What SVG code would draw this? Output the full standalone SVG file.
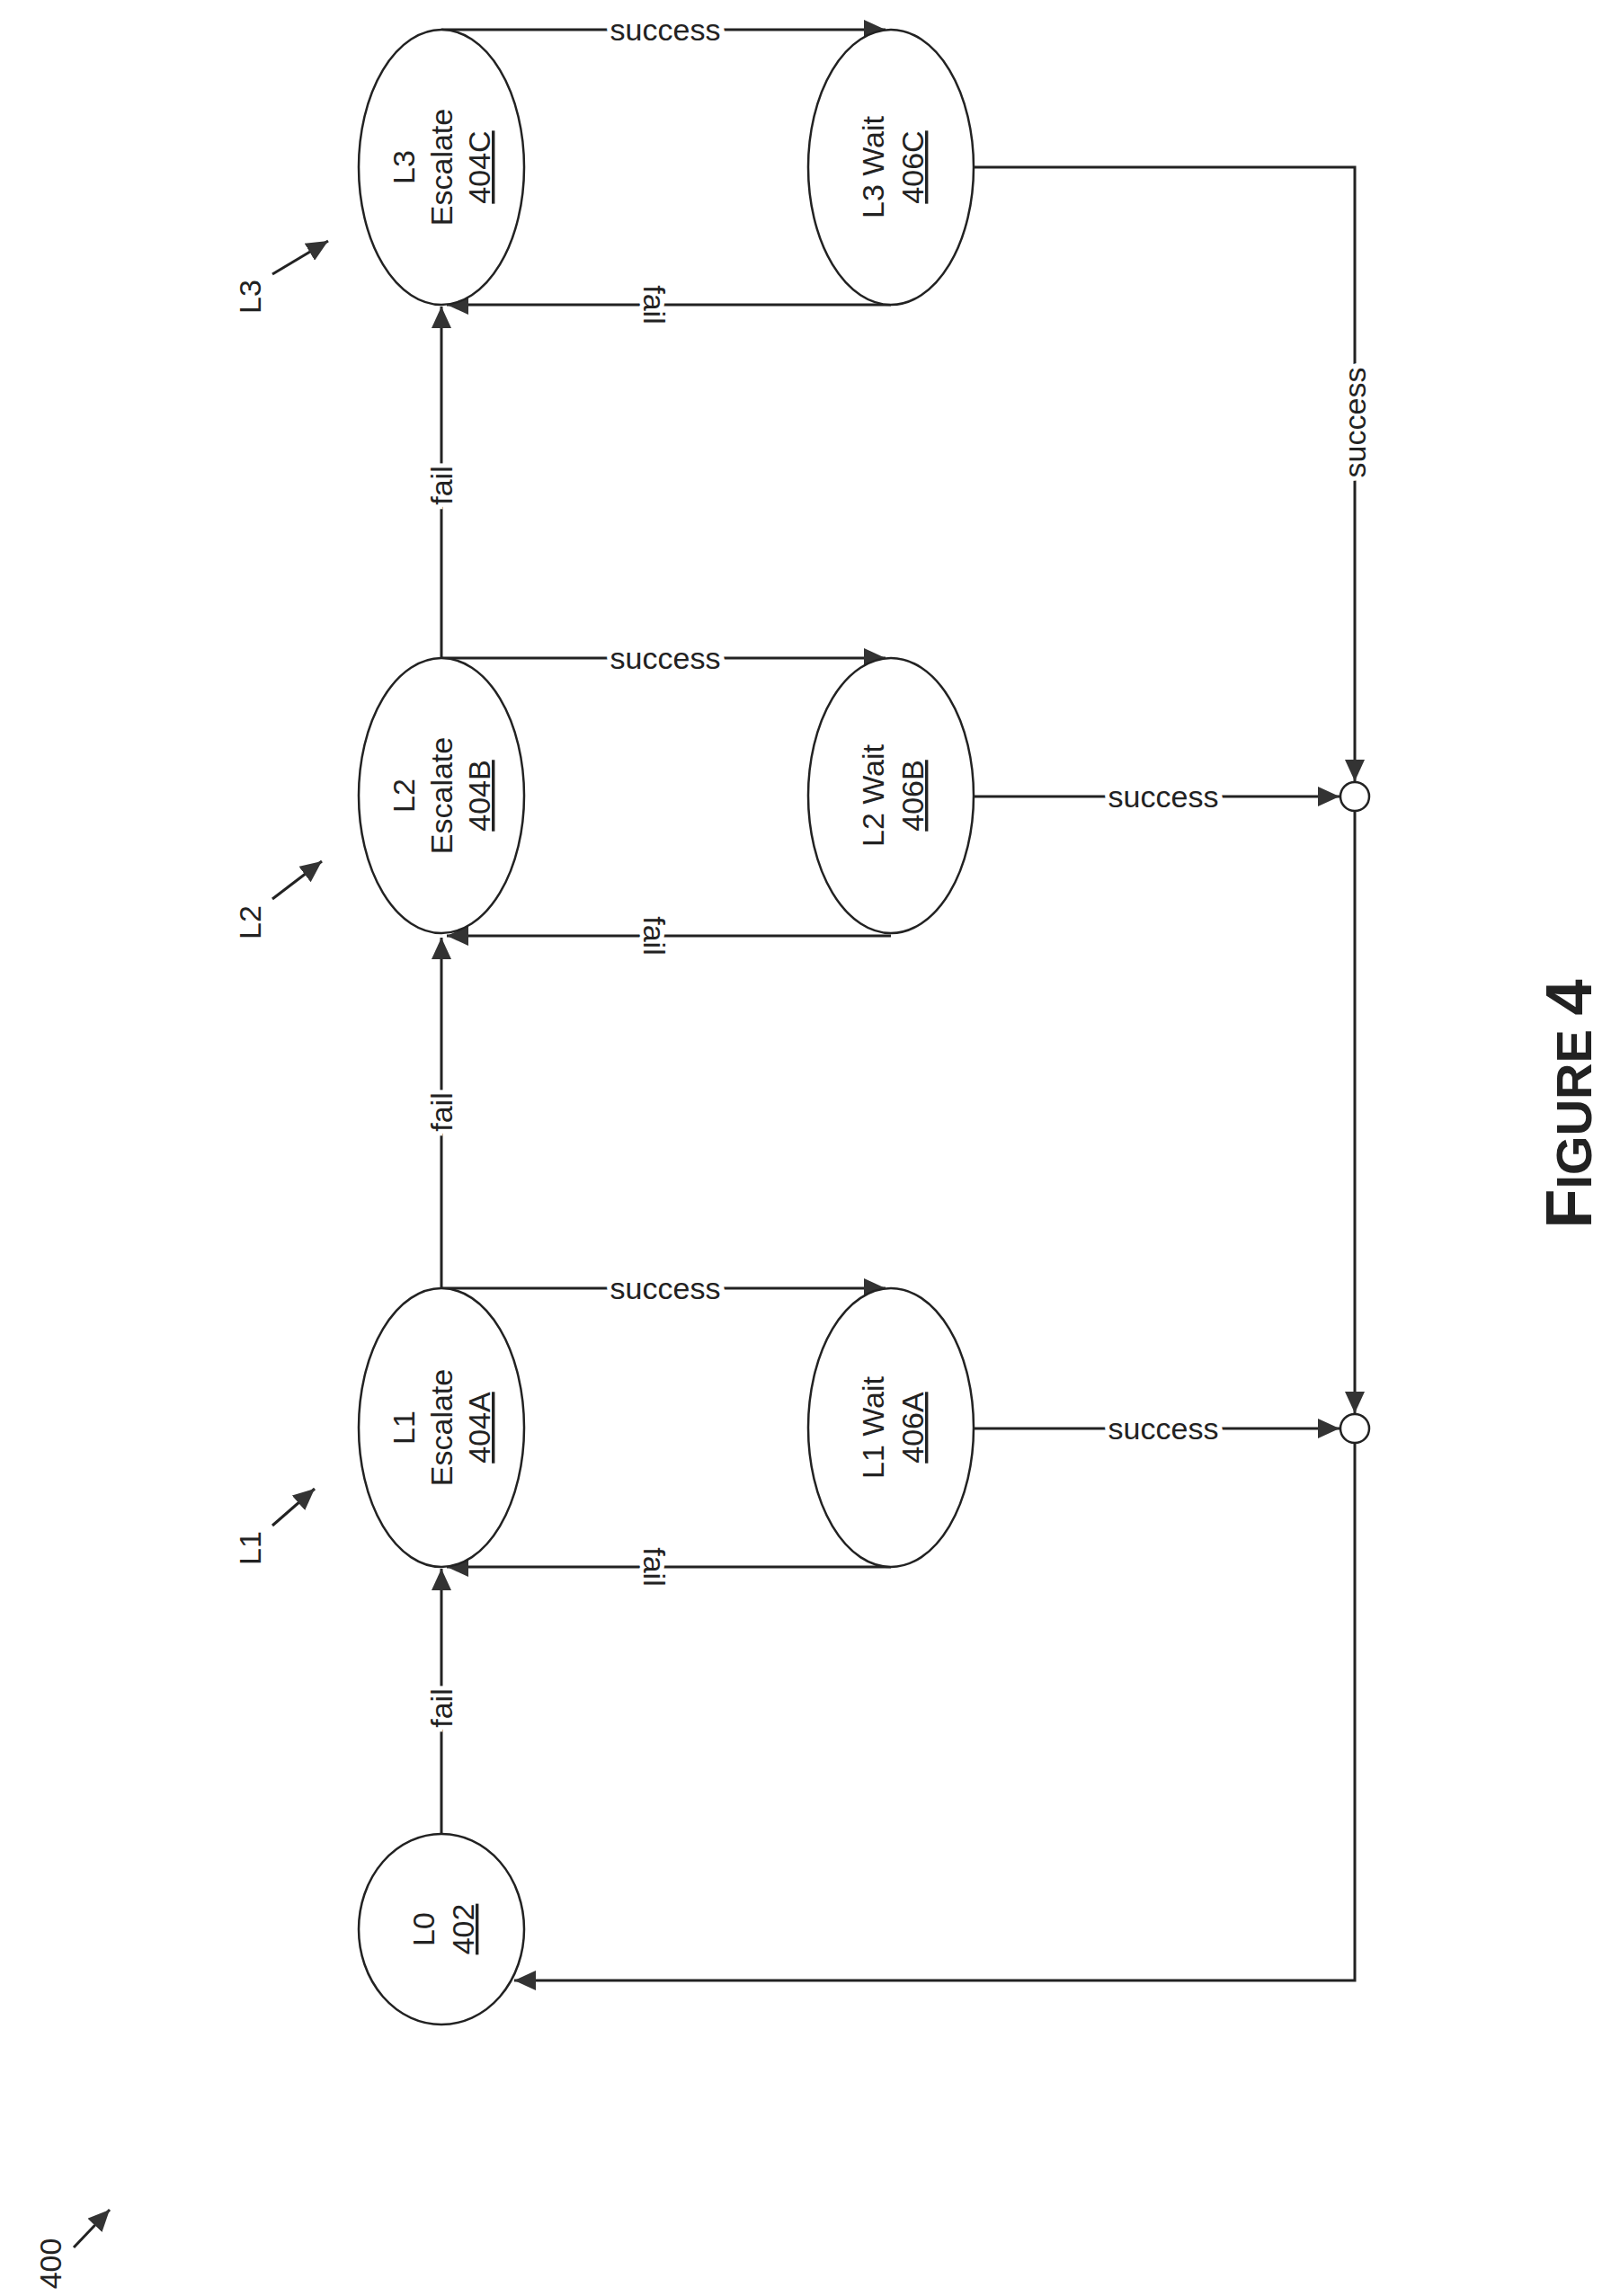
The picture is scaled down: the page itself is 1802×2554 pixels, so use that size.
<svg xmlns="http://www.w3.org/2000/svg" width="1802" height="2554" viewBox="0 0 1802 2554">
<style>
.n{fill:#fff;stroke:#222;stroke-width:2.5}
.t{font-family:"Liberation Sans",Arial,sans-serif;font-size:34px;fill:#222;text-anchor:middle}
.u{text-decoration:underline}
.c{fill:none;stroke:#222;stroke-width:3}
.l{font-family:"Liberation Sans",Arial,sans-serif;font-size:34px;fill:#222;text-anchor:middle;stroke:#fff;stroke-width:10;paint-order:stroke}
</style>
<defs>
<marker id="a" markerUnits="userSpaceOnUse" markerWidth="26" markerHeight="22" refX="24" refY="11" orient="auto"><path d="M0,0 L24,11 L0,22 Z" fill="#333"/></marker>
</defs>
<rect width="1802" height="2554" fill="#fff"/>
<g id="connectors">
<path class="c" d="M491,2040 V1745" marker-end="url(#a)"/>
<path class="c" d="M491,1433 V1043" marker-end="url(#a)"/>
<path class="c" d="M491,732 V341" marker-end="url(#a)"/>
<path class="c" d="M491,1433 H985" marker-end="url(#a)"/>
<path class="c" d="M491,732 H985" marker-end="url(#a)"/>
<path class="c" d="M491,33 H985" marker-end="url(#a)"/>
<path class="c" d="M991,1743 H497" marker-end="url(#a)"/>
<path class="c" d="M991,1041 H497" marker-end="url(#a)"/>
<path class="c" d="M991,339 H497" marker-end="url(#a)"/>
<path class="c" d="M1083,186 H1507 V869" marker-end="url(#a)"/>
<path class="c" d="M1083,886 H1490" marker-end="url(#a)"/>
<path class="c" d="M1507,902 V1572" marker-end="url(#a)"/>
<path class="c" d="M1083,1589 H1490" marker-end="url(#a)"/>
<path class="c" d="M1507,1605 V2203 H572" marker-end="url(#a)"/>
<text class="l" transform="translate(503,1900) rotate(-90)">fail</text>
<text class="l" transform="translate(503,1237) rotate(-90)">fail</text>
<text class="l" transform="translate(503,540) rotate(-90)">fail</text>
<text class="l" x="740" y="1445">success</text>
<text class="l" x="740" y="744">success</text>
<text class="l" x="740" y="45">success</text>
<text class="l" transform="translate(728,1743) rotate(90)" dy="12">fail</text>
<text class="l" transform="translate(728,1041) rotate(90)" dy="12">fail</text>
<text class="l" transform="translate(728,339) rotate(90)" dy="12">fail</text>
<text class="l" transform="translate(1519,470) rotate(-90)">success</text>
<text class="l" x="1294" y="898">success</text>
<text class="l" x="1294" y="1601">success</text>
</g>
<g id="n402" transform="translate(491,2146) rotate(-90)"><ellipse class="n" rx="106" ry="92"/><text class="t" y="-8">L0</text><text class="t u" y="36">402</text></g>
<g id="n404A" transform="translate(491,1588) rotate(-90)"><ellipse class="n" rx="155" ry="92"/><text class="t" y="-30">L1</text><text class="t" y="12">Escalate</text><text class="t u" y="54">404A</text></g>
<g id="n404B" transform="translate(491,885) rotate(-90)"><ellipse class="n" rx="153" ry="92"/><text class="t" y="-30">L2</text><text class="t" y="12">Escalate</text><text class="t u" y="54">404B</text></g>
<g id="n404C" transform="translate(491,186) rotate(-90)"><ellipse class="n" rx="153" ry="92"/><text class="t" y="-30">L3</text><text class="t" y="12">Escalate</text><text class="t u" y="54">404C</text></g>
<g id="n406A" transform="translate(991,1588) rotate(-90)"><ellipse class="n" rx="155" ry="92"/><text class="t" y="-8">L1 Wait</text><text class="t u" y="36">406A</text></g>
<g id="n406B" transform="translate(991,885) rotate(-90)"><ellipse class="n" rx="153" ry="92"/><text class="t" y="-8">L2 Wait</text><text class="t u" y="36">406B</text></g>
<g id="n406C" transform="translate(991,186) rotate(-90)"><ellipse class="n" rx="153" ry="92"/><text class="t" y="-8">L3 Wait</text><text class="t u" y="36">406C</text></g>
<g id="j1"><circle class="n" cx="1507" cy="1589" r="16"/></g>
<g id="j2"><circle class="n" cx="1507" cy="886" r="16"/></g>
<g id="labels">
<text class="t" transform="translate(290,1722) rotate(-90)">L1</text>
<path class="c" d="M303,1697 L350,1656" marker-end="url(#a)"/>
<text class="t" transform="translate(290,1026) rotate(-90)">L2</text>
<path class="c" d="M303,1000 L358,958" marker-end="url(#a)"/>
<text class="t" transform="translate(290,330) rotate(-90)">L3</text>
<path class="c" d="M303,305 L365,268" marker-end="url(#a)"/>
<text class="t" transform="translate(68,2518) rotate(-90)">400</text>
<path class="c" d="M82,2500 L122,2458" marker-end="url(#a)"/>
<text transform="translate(1770,1228) rotate(-90)" text-anchor="middle" font-family="Liberation Sans,Arial,sans-serif" font-weight="bold" fill="#222"><tspan font-size="72">F</tspan><tspan font-size="56">IGURE </tspan><tspan font-size="72">4</tspan></text>
</g>
</svg>
